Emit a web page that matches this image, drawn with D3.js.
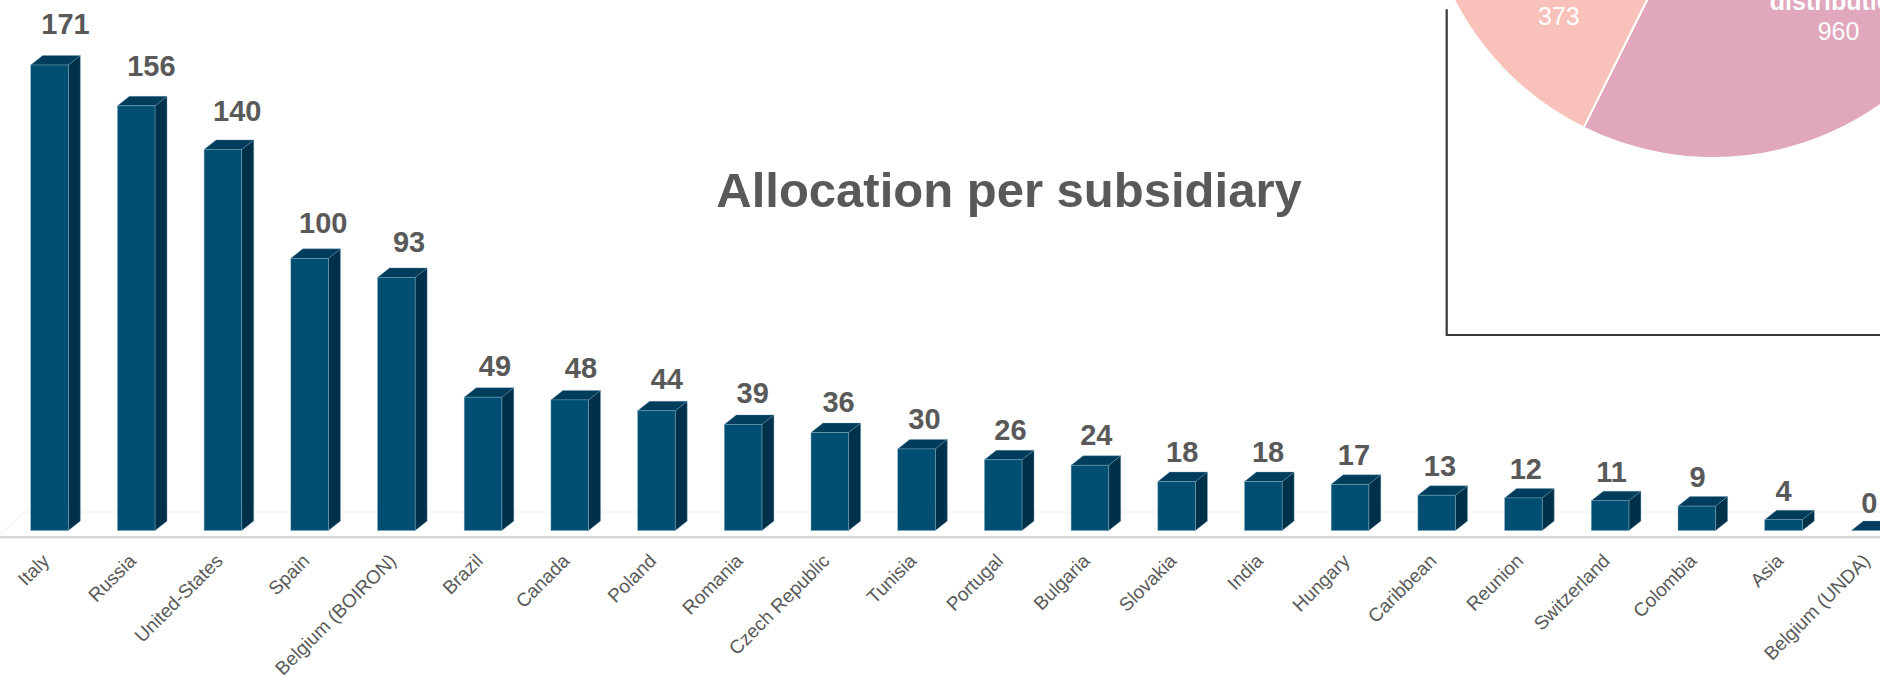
<!DOCTYPE html>
<html>
<head>
<meta charset="utf-8">
<script src="https://cdn.jsdelivr.net/npm/d3@7"></script>
<style>
  html, body { margin: 0; padding: 0; background: #ffffff; }
  svg { display: block; }
  text { font-family: "Liberation Sans", Arial, sans-serif; }
</style>
</head>
<body>
<svg id="chart" width="1880" height="678"></svg>
<script>
// ---- data ----
const categories = ["Italy", "Russia", "United-States", "Spain", "Belgium (BOIRON)", "Brazil", "Canada",
  "Poland", "Romania", "Czech Republic", "Tunisia", "Portugal", "Bulgaria", "Slovakia", "India",
  "Hungary", "Caribbean", "Reunion", "Switzerland", "Colombia", "Asia", "Belgium (UNDA)"];
const values = [171, 156, 140, 100, 93, 49, 48, 44, 39, 36, 30, 26, 24, 18, 18, 17, 13, 12, 11, 9, 4, 0];
const chartTitle = "Allocation per subsidiary";

// partially visible pie (top-right corner); only two slices show in the frame
const pieValues = [960, 373, 1267];
// name lines of each slice label (lines cut off by the top edge are unknown -> empty)
const pieNameLines = [["distribution"], ["", ""], [""]];
const pieColors = ["#e0a7bd", "#f8c1b9", "#c97f9b"];

// ---- layout ----
const svg = d3.select("#chart");
const W = 1880, H = 678;
const depthX = 12, depthY = 9.5;

const x = d3.scaleBand().domain(categories).range([30.7, 1889]).paddingInner(0.566).paddingOuter(0);
const y = d3.scaleLinear().domain([0, 171]).range([530.6, 65]);
const bw = x.bandwidth();
const y0 = y(0);

// floor
svg.append("path")
  .attr("d", `M-6,${y0 + 9} L25,512 L${W},512`)
  .attr("fill", "none").attr("stroke", "#eeeeee").attr("stroke-width", 1);
svg.append("line")
  .attr("x1", 0).attr("x2", W).attr("y1", 537.3).attr("y2", 537.3)
  .attr("stroke", "#d9d9d9").attr("stroke-width", 2.5);

// bars
const g = svg.append("g");
const bars = g.selectAll("g.bar").data(categories.map((c, i) => ({ c, v: values[i], i })))
  .enter().append("g").attr("class", "bar");

bars.append("path") // side
  .attr("d", d => {
    const xr = x(d.c) + bw, yt = y(d.v);
    return `M${xr},${yt} L${xr + depthX},${yt - depthY} L${xr + depthX},${y0 - depthY} L${xr},${y0} Z`;
  })
  .attr("fill", "#00314a").attr("stroke", "#6f9ab2").attr("stroke-width", 0.6).attr("stroke-opacity", 0.6);

bars.append("path") // top
  .attr("d", d => {
    const xl = x(d.c), yt = y(d.v);
    return `M${xl},${yt} L${xl + depthX},${yt - depthY} L${xl + bw + depthX},${yt - depthY} L${xl + bw},${yt} Z`;
  })
  .attr("fill", "#003d5c").attr("stroke", "#6f9ab2").attr("stroke-width", 0.6).attr("stroke-opacity", 0.6);

bars.append("rect") // front
  .attr("x", d => x(d.c)).attr("y", d => y(d.v))
  .attr("width", bw).attr("height", d => y0 - y(d.v))
  .attr("fill", "#004e72").attr("stroke", "#8fb6cb").attr("stroke-width", 0.6).attr("stroke-opacity", 0.7);

// value labels (slight perspective drift from left to right)
bars.append("text")
  .attr("x", d => x(d.c) + bw / 2 + 16 - 0.8 * d.i)
  .attr("y", d => y(d.v) - (18 + 0.075 * d.v))
  .attr("text-anchor", "middle")
  .attr("font-size", 29).attr("font-weight", "bold").attr("fill", "#595959")
  .text(d => d.v);

// category labels
svg.append("g").selectAll("text").data(categories).enter().append("text")
  .attr("transform", c => `translate(${x(c) + bw / 2 + 1},562) rotate(-45)`)
  .attr("text-anchor", "end")
  .attr("font-size", 19).attr("fill", "#595959")
  .text(c => c);

// title
svg.append("text")
  .attr("x", 1009).attr("y", 207)
  .attr("text-anchor", "middle")
  .attr("font-size", 49).attr("font-weight", "bold").attr("fill", "#595959")
  .text(chartTitle);

// pie frame
svg.append("path")
  .attr("d", `M1446.7,9.3 L1446.7,335 L${W},335`)
  .attr("fill", "none").attr("stroke", "#3a3a3a").attr("stroke-width", 2.2);

// pie
const total = d3.sum(pieValues);
const boundaryDeg = 206.4; // edge between first two slices
const startRad = (boundaryDeg - pieValues[0] / total * 360) * Math.PI / 180;
const pie = d3.pie().sort(null).startAngle(startRad).endAngle(startRad + 2 * Math.PI);
const arcs = pie(pieValues);
const R = 291;
const arc = d3.arc().innerRadius(0).outerRadius(R);
const labelArc = d3.arc().innerRadius(195).outerRadius(195);
const pg = svg.append("g").attr("transform", "translate(1713,-133)");
pg.selectAll("path").data(arcs).enter().append("path")
  .attr("d", arc)
  .attr("fill", (d, i) => pieColors[i])
  .attr("stroke", "#ffffff").attr("stroke-width", 2);

const lineH = 30;
const pl = pg.selectAll("g.lbl").data(arcs).enter().append("g")
  .attr("transform", d => `translate(${labelArc.centroid(d)})`);
pl.each(function (d, i) {
  const lines = pieNameLines[i].map(t => ({ t, bold: true })).concat([{ t: String(d.data), bold: false }]);
  const first = -(lines.length - 1) / 2 * lineH + 9;
  const placed = lines.map((l, k) => Object.assign({ yy: first + k * lineH }, l)).filter(l => l.t !== "");
  d3.select(this).selectAll("text").data(placed).enter().append("text")
    .attr("text-anchor", "middle")
    .attr("y", l => l.yy)
    .attr("font-size", 25)
    .attr("font-weight", l => l.bold ? "bold" : "normal")
    .attr("fill", "#ffffff")
    .text(l => l.t);
});
</script>
</body>
</html>
